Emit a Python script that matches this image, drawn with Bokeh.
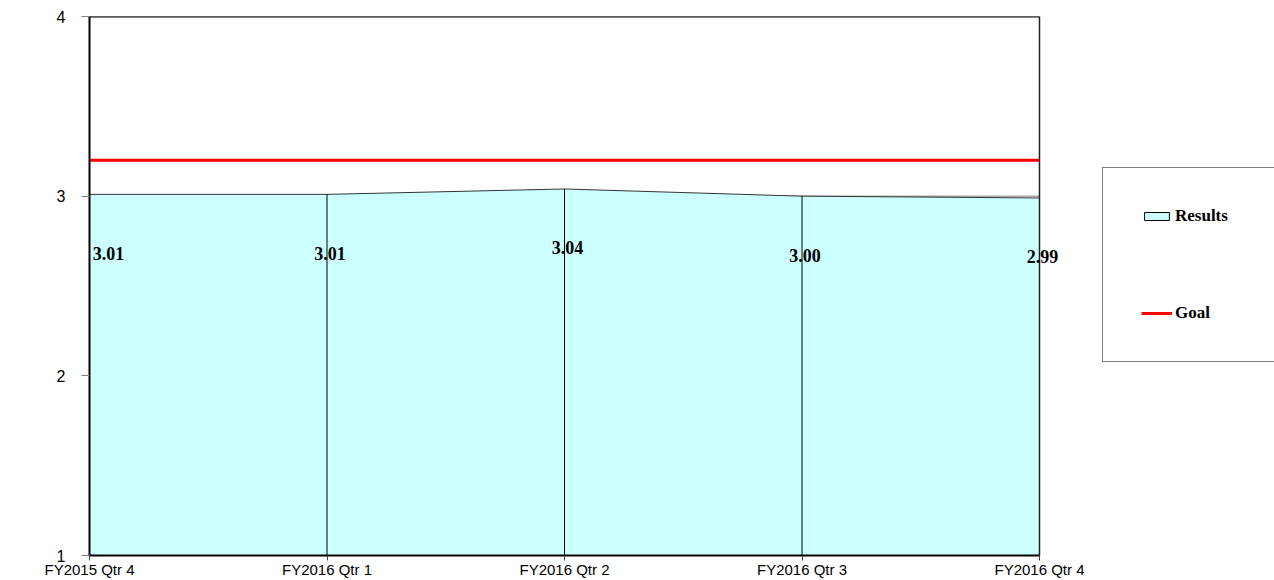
from bokeh.plotting import figure
from bokeh.models import ColumnDataSource, Legend, LegendItem, LabelSet, FixedTicker, Range1d
from bokeh.embed import file_html
from bokeh.resources import INLINE

categories = ["FY2015 Qtr 4", "FY2016 Qtr 1", "FY2016 Qtr 2", "FY2016 Qtr 3", "FY2016 Qtr 4"]
results = [3.01, 3.01, 3.04, 3.00, 2.99]
goal = [3.2, 3.2, 3.2, 3.2, 3.2]
y_ticks = [1, 2, 3, 4]
y_min, y_max = 1, 4

xs = list(range(len(categories)))
n = len(xs)

W, H = 1274, 580
left_px, plot_px = 89, 950          # plotted category span in screen pixels
x_view_end = xs[-1] * (W - left_px) / plot_px   # frame extends to the right edge (room for legend)

# keep the first value label inside the clipped plot frame
label_dx = [3] * n
label_dx[0] = 19

src = ColumnDataSource(dict(
    x=xs, y=results, base=[y_min] * n, goal=goal,
    label=[f"{v:.2f}" for v in results], dx=label_dx,
))

p = figure(width=W, height=H, x_range=Range1d(xs[0], x_view_end), y_range=Range1d(y_min, y_max),
           output_backend="svg", toolbar_location=None,
           min_border_left=left_px, min_border_right=0, min_border_top=16, min_border_bottom=25)
p.background_fill_color = "white"
p.border_fill_color = "white"
p.outline_line_color = None

# horizontal gridlines (only across the plotted span)
p.segment(x0=[xs[0]] * len(y_ticks), x1=[xs[-1]] * len(y_ticks), y0=y_ticks, y1=y_ticks,
          line_color="#808080", line_width=1)

p.varea(x="x", y1="base", y2="y", source=src, fill_color="#CCFFFF")
p.line("x", "y", source=src, line_color="#333333", line_width=1)
p.segment(x0="x", y0="base", x1="x", y1="y", source=src, line_color="black", line_width=1)
goal_r = p.line("x", "goal", source=src, line_color="#FF0000", line_width=3)

# plot-area border: top and right
p.segment(x0=[xs[0]], x1=[xs[-1]], y0=[y_max], y1=[y_max], line_color="black", line_width=2)
p.segment(x0=[xs[-1]], x1=[xs[-1]], y0=[y_min], y1=[y_max], line_color="#202020", line_width=1.5)

labels = LabelSet(x="x", y="y", text="label", source=src, x_offset="dx", y_offset=-59,
                  text_align="center", text_baseline="middle",
                  text_font="Liberation Serif", text_font_style="bold",
                  text_font_size="18px", text_color="black")
p.add_layout(labels)

# axes
p.xaxis.ticker = FixedTicker(ticks=xs)
p.xaxis.major_label_overrides = {i: c for i, c in zip(xs, categories)}
p.xaxis.bounds = (xs[0], xs[-1])
p.yaxis.ticker = FixedTicker(ticks=y_ticks)
p.yaxis.bounds = (y_min, y_max)
for ax in (p.xaxis, p.yaxis):
    ax.axis_line_color = "black"
    ax.axis_line_width = 2
    ax.minor_tick_line_color = None
    ax.major_tick_in = 0
    ax.major_label_text_font = "Liberation Sans"
    ax.major_label_text_color = "black"
p.yaxis.major_label_text_font_size = "16px"
p.xaxis.major_label_text_font_size = "15px"
p.yaxis.major_tick_out = 8
p.yaxis.major_tick_line_color = "#808080"
p.yaxis.major_label_standoff = 16
p.xaxis.major_tick_out = 5
p.xaxis.major_tick_line_color = "#404040"
p.xaxis.major_label_standoff = 0

p.xgrid.grid_line_color = None
p.ygrid.grid_line_color = None

# legend
nan = float("nan")
res_dummy = p.quad(left=[nan], right=[nan], top=[nan], bottom=[nan],
                   fill_color="#CCFFFF", line_color="black", line_width=1)
legend = Legend(items=[LegendItem(label="Results", renderers=[res_dummy]),
                       LegendItem(label="Goal", renderers=[goal_r])],
                location=(1013, 193), orientation="vertical",
                padding=38, spacing=77, margin=0,
                glyph_width=31, glyph_height=10, label_height=10, label_width=100, label_standoff=3,
                label_text_font="Liberation Serif", label_text_font_style="bold",
                label_text_font_size="17px", label_text_color="black",
                border_line_color="black", border_line_width=1,
                background_fill_color="white", background_fill_alpha=1)
p.add_layout(legend, "center")

open("out.html", "w").write(file_html(p, INLINE))
